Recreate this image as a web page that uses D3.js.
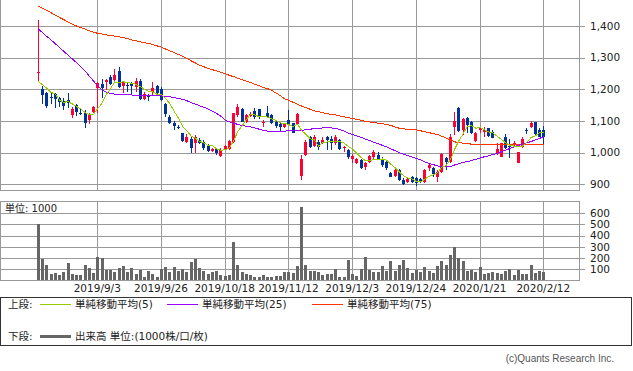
<!DOCTYPE html>
<html>
<head>
<meta charset="utf-8">
<script src="https://cdn.jsdelivr.net/npm/d3@7"></script>
<style>
  html, body { margin: 0; padding: 0; background: #fff; }
  svg { display: block; font-family: "DejaVu Sans", "Noto Sans CJK JP", sans-serif; }
</style>
</head>
<body>
<svg id="chart" width="633" height="371"></svg>
<script>
// trading days shown on the chart
const dates = [
  "2019/8/14","2019/8/15","2019/8/16","2019/8/19","2019/8/20","2019/8/21","2019/8/22","2019/8/23","2019/8/26","2019/8/27",
  "2019/8/28","2019/8/29","2019/8/30","2019/9/2","2019/9/3","2019/9/4","2019/9/5","2019/9/6","2019/9/9","2019/9/10",
  "2019/9/11","2019/9/12","2019/9/13","2019/9/17","2019/9/18","2019/9/19","2019/9/20","2019/9/24","2019/9/25","2019/9/26",
  "2019/9/27","2019/9/30","2019/10/1","2019/10/2","2019/10/3","2019/10/4","2019/10/7","2019/10/8","2019/10/9","2019/10/10",
  "2019/10/11","2019/10/15","2019/10/16","2019/10/17","2019/10/18","2019/10/21","2019/10/23","2019/10/24","2019/10/25","2019/10/28",
  "2019/10/29","2019/10/30","2019/10/31","2019/11/1","2019/11/5","2019/11/6","2019/11/7","2019/11/8","2019/11/11","2019/11/12",
  "2019/11/13","2019/11/14","2019/11/15","2019/11/18","2019/11/19","2019/11/20","2019/11/21","2019/11/22","2019/11/25","2019/11/26",
  "2019/11/27","2019/11/28","2019/11/29","2019/12/2","2019/12/3","2019/12/4","2019/12/5","2019/12/6","2019/12/9","2019/12/10",
  "2019/12/11","2019/12/12","2019/12/13","2019/12/16","2019/12/17","2019/12/18","2019/12/19","2019/12/20","2019/12/23","2019/12/24",
  "2019/12/25","2019/12/26","2019/12/27","2019/12/30","2020/1/6","2020/1/7","2020/1/8","2020/1/9","2020/1/10","2020/1/14",
  "2020/1/15","2020/1/16","2020/1/17","2020/1/20","2020/1/21","2020/1/22","2020/1/23","2020/1/24","2020/1/27","2020/1/28",
  "2020/1/29","2020/1/30","2020/1/31","2020/2/3","2020/2/4","2020/2/5","2020/2/6","2020/2/7","2020/2/10","2020/2/12"
]

const open = [
  1251,1200,1187,1177,1185,1174,1164,1166,1119,1149, 1124,1124,1103,1129,1203,1217,1224,1240,1229,1258,
  1211,1214,1217,1206,1227,1168,1182,1193,1211,1200, 1153,1114,1095,1082,1061,1035,1042,1029,1040,1035,
  1022,1006,1012,990,1011,1011,1035,1119,1138,1098, 1116,1132,1138,1095,1124,1119,1098,1090,1080,1103,
  1093,1090,927,993,1050,1022,1035,1032,1050,1042, 1032,1040,1014,1008,979,968,977,956,971,987,
  993,980,972,937,927,945,914,908,924,919, 917,908,950,953,924,940,984,972,1080,1140,
  1072,1108,1098,1038,1072,1066,1077,1066,996,987, 1048,1022,1027,968,1019,1073,1082,1096,1072,1072
]
const high = [
  1419,1211,1193,1190,1189,1177,1172,1187,1143,1153, 1140,1135,1124,1147,1224,1233,1232,1245,1264,1272,
  1227,1219,1224,1235,1234,1193,1185,1222,1214,1206, 1156,1119,1101,1086,1063,1058,1050,1056,1045,1040,
  1027,1014,1014,1014,1024,1040,1126,1154,1140,1121, 1129,1140,1138,1103,1147,1121,1101,1093,1095,1135,
  1095,1124,993,1040,1053,1056,1040,1050,1053,1053, 1056,1042,1021,1011,996,982,979,972,992,1008,
  1003,985,977,940,950,947,919,924,927,924, 921,947,966,956,945,998,987,1058,1129,1143,
  1108,1112,1101,1066,1082,1082,1079,1072,1029,1032, 1059,1042,1036,1003,1048,1079,1101,1098,1079,1084
]
const low = [
  1224,1154,1140,1154,1140,1145,1135,1140,1110,1116, 1119,1077,1089,1124,1125,1174,1198,1214,1221,1204,
  1189,1193,1182,1193,1166,1166,1164,1182,1185,1164, 1114,1090,1072,1075,1035,1029,1000,1000,1027,1008,
  1003,1003,993,985,1008,1008,1029,1114,1096,1095, 1114,1107,1105,1080,1112,1090,1079,1069,1077,1087,
  1061,1087,914,989,1014,1019,1008,1027,1008,1008, 1024,1008,1003,979,966,964,948,945,968,979,
  977,956,945,922,924,911,898,905,905,895, 903,905,943,924,908,937,945,968,1056,1066,
  1056,1063,1059,1035,1061,1048,1048,1045,993,985, 1011,982,1022,966,1014,1059,1077,1056,1048,1027
]
const close = [
  1256,1182,1147,1172,1169,1161,1147,1156,1137,1129, 1121,1093,1119,1143,1219,1205,1229,1217,1245,1206,
  1224,1211,1211,1227,1168,1185,1177,1203,1187,1166, 1121,1093,1084,1078,1037,1050,1014,1048,1029,1014,
  1006,1012,998,1008,1022,1038,1124,1145,1098,1119, 1122,1112,1116,1098,1114,1093,1084,1080,1093,1090,
  1063,1122,980,1033,1019,1050,1019,1040,1040,1032, 1048,1012,1019,985,990,979,950,968,989,1003,
  979,961,951,924,945,914,901,917,908,905, 906,945,961,933,938,996,969,1050,1101,1069,
  1106,1087,1061,1063,1077,1072,1053,1045,1012,1029, 1014,1017,1031,1001,1042,1071,1093,1059,1050,1048
]
// 出来高 (1000株)
const volume = [
  500,190,137,57,65,48,71,155,57,48, 48,137,107,65,208,199,92,92,74,110,
  128,74,110,57,92,30,83,57,30,101, 119,74,119,83,101,74,164,190,110,83,
  57,74,83,48,39,48,342,137,74,57, 48,30,30,48,30,30,39,39,71,71,
  65,128,652,137,83,83,71,48,57,57, 101,30,30,182,57,39,101,208,92,71,
  71,128,83,173,83,137,182,110,65,92, 74,119,83,65,128,173,137,226,298,199,
  173,83,92,74,119,57,65,74,65,57, 83,101,48,92,57,57,137,65,83,74
]
// closes before the first shown day, needed by the 5-day average
const prevCloses = [1232, 1202, 1237, 1193]
const ma25 = [
  1390,1379,1367,1356,1344,1332,1320,1308,1296,1284, 1272,1258,1242,1226,1211,1199,1191,1187,1185,1184,
  1183,1183,1182,1182,1181,1181,1180,1180,1179,1179, 1178,1176,1174,1171,1168,1164,1158,1153,1148,1143,
  1138,1131,1124,1115,1103,1097,1093,1089,1086,1083, 1081,1078,1074,1070,1068,1067,1067,1068,1068,1069,
  1069,1070,1071,1072,1074,1076,1077,1078,1078,1078, 1077,1073,1068,1062,1057,1053,1048,1043,1038,1033,
  1028,1023,1018,1012,1006,1000,995,991,986,982, 977,971,966,962,958,956,955,956,961,965,
  969,972,975,979,983,987,990,994,998,1003, 1008,1013,1018,1023,1027,1031,1035,1040,1045,1050
]
const ma75 = [
  1463,1456,1449,1442,1434,1427,1420,1413,1406,1400, 1395,1390,1385,1380,1377,1375,1372,1370,1368,1366,
  1363,1360,1356,1353,1350,1347,1345,1341,1337,1333, 1327,1321,1316,1310,1304,1297,1290,1283,1276,1271,
  1266,1262,1258,1254,1249,1244,1240,1235,1230,1226, 1221,1216,1211,1206,1202,1196,1188,1180,1170,1165,
  1159,1153,1147,1142,1137,1132,1129,1126,1123,1121, 1119,1116,1113,1110,1108,1105,1102,1099,1097,1095,
  1093,1091,1089,1086,1081,1077,1075,1074,1073,1072, 1069,1066,1063,1060,1057,1052,1046,1040,1034,1032,
  1030,1028,1027,1026,1026,1026,1026,1026,1026,1026, 1026,1026,1026,1026,1026,1026,1026,1026,1026,1026
]

const priceTicks = [900, 1000, 1100, 1200, 1300, 1400]
const volumeTicks = [100, 200, 300, 400, 500, 600]
const dateTicks = ["2019/9/3","2019/9/26","2019/10/18","2019/11/12","2019/12/3","2019/12/24","2020/1/21","2020/2/12"]

const colors = { up: "#ff0033", down: "#003399", ma5: "#99cc00", ma25: "#9900ff", ma75: "#ff3300", vol: "#666666", grid: "#999999" }

const allCloses = prevCloses.concat(close)
const ma5 = close.map((c, i) => d3.mean(allCloses.slice(i, i + 5)))

const rows = dates.map((d, i) => ({ date: d, o: open[i], h: high[i], l: low[i], c: close[i], v: volume[i] }))

const plotRight = 579.5
const price = { top: -2, bottom: 190.5 }
const vol = { top: 201.5, bottom: 280.5 }

const x = d3.scalePoint().domain(dates).range([37.8, 543.3])
const yPrice = d3.scaleLinear().domain([900, 1400]).range([184.3, 26])
const yVol = d3.scaleLinear().domain([0, 600]).range([280.3, 213.1])
const px = d => Math.round(x(d))

const svg = d3.select("#chart")

svg.append("defs").append("clipPath").attr("id", "clipPrice")
  .append("rect").attr("x", 0).attr("y", 0).attr("width", plotRight).attr("height", price.bottom)

// frames and grid
function panel(box, yScale, ticks, fmt) {
  const g = svg.append("g").attr("shape-rendering", "crispEdges")
  g.selectAll(".hgrid").data(ticks).join("line")
    .attr("x1", 0).attr("x2", plotRight + 5)
    .attr("y1", d => Math.round(yScale(d)) + 0.5).attr("y2", d => Math.round(yScale(d)) + 0.5)
    .attr("stroke", colors.grid)
  g.selectAll(".vgrid").data(dateTicks).join("line")
    .attr("x1", d => px(d) + 0.5).attr("x2", d => px(d) + 0.5)
    .attr("y1", box.top).attr("y2", box.bottom)
    .attr("stroke", colors.grid)
  g.append("rect")
    .attr("x", 0.5).attr("y", box.top)
    .attr("width", plotRight - 0.5).attr("height", box.bottom - box.top)
    .attr("fill", "none").attr("stroke", colors.grid)
  svg.append("g").selectAll("text").data(ticks).join("text")
    .attr("x", 590).attr("y", d => yScale(d) + 3.8)
    .attr("font-size", "10.5px").attr("fill", "#222")
    .text(fmt)
}
panel(price, yPrice, priceTicks, d3.format(","))
panel(vol, yVol, volumeTicks, d => d)

// candles
const candles = svg.append("g").attr("clip-path", "url(#clipPrice)").attr("shape-rendering", "crispEdges")
const candle = candles.selectAll("g").data(rows).join("g")
  .attr("fill", d => d.c >= d.o ? colors.up : colors.down)
  .attr("stroke", d => d.c >= d.o ? colors.up : colors.down)
candle.append("line")
  .attr("x1", d => px(d.date) + 0.5).attr("x2", d => px(d.date) + 0.5)
  .attr("y1", d => yPrice(d.h)).attr("y2", d => yPrice(d.l))
candle.append("rect")
  .attr("stroke", "none")
  .attr("x", d => px(d.date) - 1).attr("width", 3)
  .attr("y", d => yPrice(Math.max(d.o, d.c)))
  .attr("height", d => Math.max(1, Math.abs(yPrice(d.o) - yPrice(d.c))))

// moving averages
const maLine = d3.line().x((d, i) => x(dates[i]) + 0.5).y(d => yPrice(d))
;[[ma75, colors.ma75], [ma25, colors.ma25], [ma5, colors.ma5]].forEach(([s, col]) => {
  candles.append("path").datum(s)
    .attr("d", maLine).attr("fill", "none").attr("stroke", col).attr("stroke-width", 1)
})

// volume bars
svg.append("g").attr("shape-rendering", "crispEdges")
  .selectAll("rect").data(rows).join("rect")
  .attr("x", d => px(d.date) - 1).attr("width", 3)
  .attr("y", d => yVol(d.v)).attr("height", d => yVol(0) - yVol(d.v))
  .attr("fill", colors.vol)

svg.append("text").attr("x", 5).attr("y", 212).attr("font-size", "10px").attr("fill", "#222").text("単位: 1000")

// date labels
svg.append("g").selectAll("text").data(dateTicks).join("text")
  .attr("x", d => x(d)).attr("y", 292)
  .attr("text-anchor", "middle").attr("font-size", "10.5px").attr("fill", "#222")
  .text(d => d)

// legend
const lg = svg.append("g").attr("font-size", "10.5px").attr("fill", "#222")
lg.append("rect").attr("x", 0.5).attr("y", 297.5).attr("width", 631).attr("height", 48)
  .attr("fill", "none").attr("stroke", "#333").attr("shape-rendering", "crispEdges")
lg.append("text").attr("x", 8).attr("y", 308).text("上段:")
lg.append("text").attr("x", 8).attr("y", 340).text("下段:")
const legendItems = [
  { x: 40, color: colors.ma5, label: "単純移動平均(5)" },
  { x: 167, color: colors.ma25, label: "単純移動平均(25)" },
  { x: 312, color: colors.ma75, label: "単純移動平均(75)" }
]
legendItems.forEach(it => {
  lg.append("line").attr("x1", it.x).attr("x2", it.x + 31).attr("y1", 304.5).attr("y2", 304.5)
    .attr("stroke", it.color).attr("shape-rendering", "crispEdges")
  lg.append("text").attr("x", it.x + 35).attr("y", 308).text(it.label)
})
lg.append("line").attr("x1", 40).attr("x2", 71).attr("y1", 336.5).attr("y2", 336.5)
  .attr("stroke", colors.vol).attr("stroke-width", 3).attr("shape-rendering", "crispEdges")
lg.append("text").attr("x", 75).attr("y", 340).text("出来高 単位:(1000株/口/枚)")

svg.append("text").attr("x", 614).attr("y", 362).attr("text-anchor", "end")
  .attr("font-family", "Liberation Sans, sans-serif").attr("font-size", "10px").attr("fill", "#555")
  .text("(c)Quants Research Inc.")
</script>
</body>
</html>
